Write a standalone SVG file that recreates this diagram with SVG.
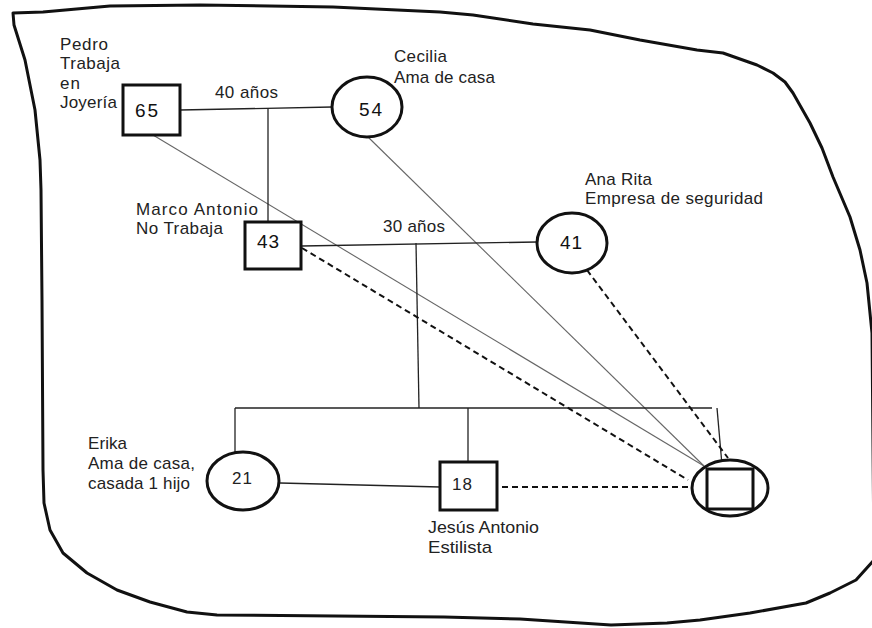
<svg xmlns="http://www.w3.org/2000/svg" width="872" height="628" viewBox="0 0 872 628">
<style>
text{font-family:"Liberation Sans",Arial,sans-serif;font-size:17px;fill:#222}
.num{font-size:19px;fill:#111}
.small{font-size:17px}
.shape{fill:#fff;stroke:#111;stroke-width:3}
.line{stroke:#222;stroke-width:1.3;fill:none}
.gray{stroke:#666;stroke-width:1.1;fill:none}
.dash{stroke:#111;stroke-width:2;stroke-dasharray:6 4;fill:none}
.border{fill:none;stroke:#111;stroke-width:3;stroke-linejoin:round;stroke-linecap:round}
</style>
<rect width="872" height="628" fill="#fff"/>
<path class="border" d="M13,13 L43,12 L110,6 L200,5 L333,7 L440,12 L473,15 L533,24 L590,30 L640,40 L697,50 L723,53 L757,65 L773,73 L785,82 L793,93 L810,123 L822,148 L833,177 L850,217 L860,250 L867,283 L872,333 L874,560 L856,580 L830,593 L806,603 L750,613 L700,620 L667,623 L611,625 L520,619 L444,617 L217,615 L187,612 L150,602 L117,590 L87,573 L63,553 L50,530 L44,503 L43,470 L42,300 L41,190 L40,160 L35,110 L25,60 L14,25 Z"/>
<g id="connectors">
<line class="gray" x1="153" y1="135" x2="704" y2="466"/>
<line class="gray" x1="368" y1="137" x2="704" y2="466"/>
<line class="line" x1="180" y1="110" x2="332" y2="107"/>
<line class="line" x1="268" y1="108" x2="268" y2="222"/>
<line class="line" x1="302" y1="246" x2="537" y2="242"/>
<line class="line" x1="416" y1="243" x2="419" y2="408"/>
<line class="line" x1="235" y1="408" x2="712" y2="408"/>
<line class="line" x1="235" y1="408" x2="235" y2="452"/>
<line class="line" x1="468" y1="408" x2="468" y2="462"/>
<line class="line" x1="717" y1="408" x2="722" y2="465"/>
<line class="line" x1="280" y1="483" x2="440" y2="487"/>
<line class="dash" x1="302" y1="248" x2="688" y2="480"/>
<line class="dash" x1="587" y1="270" x2="728" y2="458"/>
<line class="dash" x1="502" y1="487" x2="692" y2="487"/>
</g>
<g id="pedro">
<rect class="shape" x="123" y="85" width="57" height="50"/>
<text class="num" x="135" y="117" textLength="23">65</text>
<text x="60" y="50" textLength="48">Pedro</text>
<text x="60" y="69" textLength="60">Trabaja</text>
<text x="60" y="89" textLength="20">en</text>
<text x="60" y="108" textLength="57">Joyería</text>
</g>
<g id="cecilia">
<ellipse class="shape" cx="367" cy="107" rx="35" ry="30" stroke-width="2.5"/>
<text class="num" x="359" y="116" textLength="23">54</text>
<text x="394" y="62" textLength="53">Cecilia</text>
<text x="394" y="83" textLength="101">Ama de casa</text>
</g>
<g id="marriage1-label">
<text x="215" y="98" textLength="63">40 años</text>
</g>
<g id="marco">
<rect class="shape" x="245" y="222" width="56" height="47"/>
<text class="num" x="257" y="248" textLength="22">43</text>
<text x="136" y="215" textLength="122">Marco Antonio</text>
<text x="136" y="234" textLength="87">No Trabaja</text>
</g>
<g id="anarita">
<ellipse class="shape" cx="572" cy="243" rx="35" ry="30" stroke-width="2.5"/>
<text class="num" x="560" y="249" textLength="22">41</text>
<text x="585" y="185" textLength="67">Ana Rita</text>
<text x="585" y="204" textLength="178">Empresa de seguridad</text>
</g>
<g id="marriage2-label">
<text x="383" y="232" textLength="62">30 años</text>
</g>
<g id="erika">
<ellipse class="shape" cx="243" cy="481" rx="36" ry="29" stroke-width="2.5"/>
<text class="small" x="232" y="484" textLength="20">21</text>
<text x="88" y="449" textLength="39">Erika</text>
<text x="88" y="469" textLength="107">Ama de casa,</text>
<text x="88" y="489" textLength="102">casada 1 hijo</text>
</g>
<g id="jesus">
<rect class="shape" x="440" y="462" width="57" height="48"/>
<text class="small" x="452" y="490" textLength="20">18</text>
<text x="428" y="533" textLength="111" lengthAdjust="spacingAndGlyphs">Jesús Antonio</text>
<text x="428" y="553" textLength="64" lengthAdjust="spacingAndGlyphs">Estilista</text>
</g>
<g id="index">
<ellipse class="shape" cx="730" cy="488" rx="38" ry="28"/>
<rect class="shape" x="707" y="469" width="46" height="40" fill="none"/>
</g>
</svg>
